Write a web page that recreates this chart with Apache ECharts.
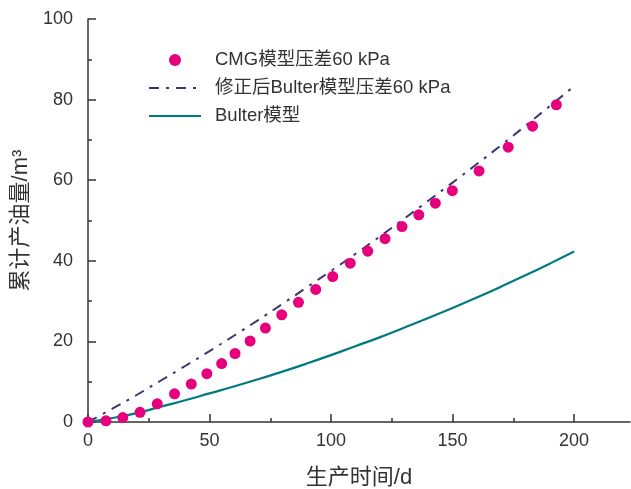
<!DOCTYPE html>
<html>
<head>
<meta charset="utf-8">
<script src="https://cdn.jsdelivr.net/npm/echarts@6/dist/echarts.min.js"></script>
<style>
html, body { margin: 0; padding: 0; background: #fff; }
#chart { width: 631px; height: 489px; }
</style>
</head>
<body>
<div id="chart"></div>
<script>
// CMG simulation points
var cmgDays = [0, 7.4, 14.3, 21.4, 28.5, 35.6, 42.5, 48.9, 55.0, 60.5, 66.7, 73.0, 79.7, 86.6, 93.7, 100.7, 107.9, 115.1, 122.2, 129.2, 136.1, 142.9, 149.9, 160.9, 172.9, 182.9, 192.7];
var cmgOil = [0, 0.3, 1.1, 2.4, 4.5, 7.0, 9.4, 12.0, 14.5, 17.0, 20.1, 23.3, 26.6, 29.7, 32.9, 36.1, 39.4, 42.4, 45.5, 48.5, 51.4, 54.3, 57.4, 62.3, 68.2, 73.4, 78.7];

// model curves
var modelDays = [0, 10, 20, 30, 40, 50, 60, 70, 80, 90, 100, 110, 120, 130, 140, 150, 160, 170, 180, 190, 200];
var fixedOil = [0, 3.3, 6.7, 10.3, 13.9, 17.6, 21.4, 25.3, 29.3, 33.4, 37.5, 41.7, 46.0, 50.4, 54.9, 59.4, 64.0, 68.7, 73.5, 78.4, 83.3];
var bulterOil = [0, 1.0, 2.2, 3.8, 5.4, 7.1, 8.8, 10.6, 12.5, 14.5, 16.6, 18.8, 21.0, 23.4, 25.8, 28.3, 30.9, 33.6, 36.4, 39.3, 42.3];

var xTicks = [0, 50, 100, 150, 200];
var xMinorTicks = [25, 75, 125, 175];

var names = ['CMG模型压差60 kPa', '修正后Bulter模型压差60 kPa', 'Bulter模型'];

function pairs(xs, ys) {
    return xs.map(function (x, i) { return [x, ys[i]]; });
}

var font = "'Liberation Sans', 'Noto Sans CJK SC', sans-serif";
var textColor = '#333';
var axisColor = '#333';

var chart = echarts.init(document.getElementById('chart'));
var option = {
    animation: false,
    grid: { left: 88, right: 1, top: 19, bottom: 67, outerBoundsMode: 'none' },
    legend: {
        orient: 'vertical',
        left: 143,
        top: 45,
        itemWidth: 52,
        itemHeight: 12,
        itemGap: 8,
        textStyle: { fontFamily: font, fontSize: 18.5, color: textColor, lineHeight: 20, padding: [0, 0, 0, 9] },
        data: [
            { name: names[0], icon: 'circle' },
            // hide the marker that line legends draw in the middle
            { name: names[1], itemStyle: { opacity: 0 } },
            { name: names[2], itemStyle: { opacity: 0 } }
        ]
    },
    xAxis: [{
        type: 'value',
        min: 0,
        max: 223,
        name: '生产时间/d',
        nameLocation: 'middle',
        nameGap: 45,
        nameTextStyle: { fontFamily: font, fontSize: 22, color: textColor },
        splitLine: { show: false },
        axisLine: { lineStyle: { color: axisColor, width: 1.5 } },
        axisTick: { inside: true, length: 8, customValues: xTicks, lineStyle: { color: axisColor, width: 1.5 } },
        axisLabel: { customValues: xTicks, margin: 10, fontFamily: font, fontSize: 18, color: textColor }
    }, {
        type: 'value',
        min: 0,
        max: 223,
        position: 'bottom',
        splitLine: { show: false },
        axisLine: { show: false },
        axisLabel: { show: false },
        axisTick: { inside: true, length: 4, customValues: xMinorTicks, lineStyle: { color: axisColor, width: 1.5 } }
    }],
    yAxis: {
        type: 'value',
        min: 0,
        max: 100,
        interval: 20,
        name: '累计产油量/m³',
        nameLocation: 'middle',
        nameGap: 52,
        nameTextStyle: { fontFamily: font, fontSize: 22, color: textColor },
        splitLine: { show: false },
        axisLine: { show: true, lineStyle: { color: axisColor, width: 1.5 } },
        axisTick: { inside: true, length: 8, lineStyle: { color: axisColor, width: 1.5 } },
        minorTick: { show: true, splitNumber: 2, length: 4, lineStyle: { color: axisColor, width: 1.5 } },
        axisLabel: { margin: 15, fontFamily: font, fontSize: 18, color: textColor }
    },
    series: [{
        name: names[1],
        type: 'line',
        symbol: 'none',
        smooth: true,
        data: pairs(modelDays, fixedOil),
        lineStyle: { color: '#3a3870', width: 2, type: [10, 7, 3, 7] },
        itemStyle: { color: '#3a3870' },
        z: 2
    }, {
        name: names[2],
        type: 'line',
        symbol: 'none',
        smooth: true,
        data: pairs(modelDays, bulterOil),
        lineStyle: { color: '#007a80', width: 2.2 },
        itemStyle: { color: '#007a80' },
        z: 2
    }, {
        name: names[0],
        type: 'scatter',
        symbol: 'circle',
        symbolSize: 11,
        data: pairs(cmgDays, cmgOil),
        itemStyle: { color: '#e6007e', opacity: 1 },
        z: 3
    }]
};
chart.setOption(option);
</script>
</body>
</html>
